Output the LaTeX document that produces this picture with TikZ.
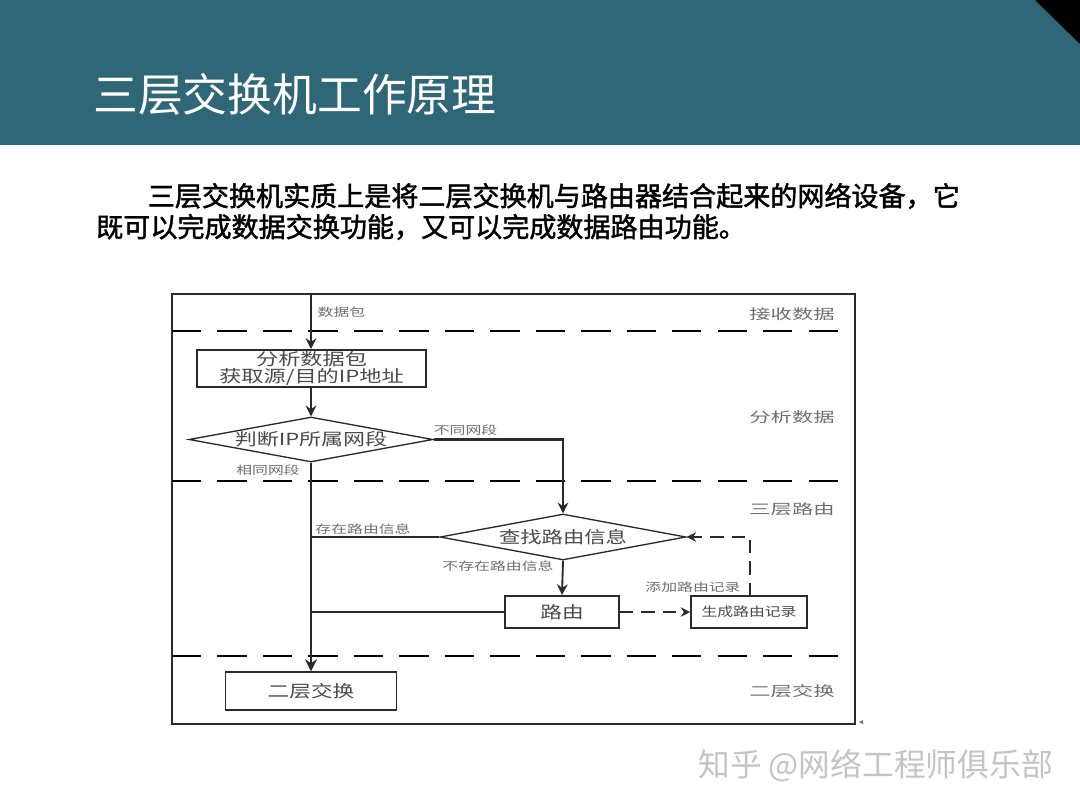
\documentclass[tikz,border=0pt]{standalone}
\usepackage{fontspec}
\usepackage{graphicx}
\setmainfont{Noto Sans CJK SC}
\newfontfamily\bodyfont[FakeBold=1.6]{Noto Sans CJK SC}
\usetikzlibrary{shapes.geometric,arrows.meta}
\definecolor{headerteal}{HTML}{2F6776}
\definecolor{inktext}{HTML}{4A4A4A}
\definecolor{softtext}{HTML}{6E6E6E}
\definecolor{linedark}{HTML}{2A2A2A}
\definecolor{markgray}{HTML}{C4C4C4}
\newcommand{\wide}[2][1.4]{\scalebox{#1}[1]{#2}}
\tikzset{
  x=0.75pt,y=-0.75pt,
  frameline/.style={draw=linedark,line width=1.5pt},
  laneline/.style={draw=black,line width=0.8pt,dash pattern=on 22pt off 12.1pt},
  flowbox/.style={draw=linedark,line width=1.5pt,rectangle,inner sep=0pt,fill=white,text=inktext,font=\fontsize{12.5pt}{14pt}\selectfont,align=center},
  flowdiamond/.style={draw=linedark,line width=1pt,diamond,aspect=5.4,inner sep=0pt,fill=white,text=inktext,font=\fontsize{12.5pt}{15pt}\selectfont},
  flowlabel/.style={text=softtext,inner sep=0pt,font=\fontsize{8.5pt}{10pt}\selectfont},
  lanelabel/.style={text=softtext,inner sep=0pt,font=\fontsize{10.5pt}{12pt}\selectfont},
  flowarrow/.style={draw=linedark,line width=1.4pt,-{Stealth[length=8pt,width=8pt]}},
  mainflow/.style={draw=linedark,line width=2pt,-{Stealth[length=9pt,width=9pt]}},
  thinflow/.style={draw=linedark,line width=1pt},
  heavyflow/.style={draw=linedark,line width=1.6pt},
  dashflow/.style={draw=linedark,line width=0.9pt,dash pattern=on 10pt off 6pt,-{Stealth[length=7pt,width=7pt]}},
  bodytext/.style={anchor=west,inner sep=0pt,text=black,font=\bodyfont\fontsize{20.3pt}{24pt}\selectfont},
}
\begin{document}
\begin{tikzpicture}
\useasboundingbox (0,0) rectangle (1080,810);
\fill[white] (0,0) rectangle (1080,810);
\fill[headerteal] (0,0) rectangle (1080,145);
\fill[black] (1035,0) -- (1080,0) -- (1080,44) -- cycle;
\node[anchor=west,inner sep=0pt,text=white,font=\fontsize{33.6pt}{40pt}\selectfont] (title) at (93,94) {三层交换机工作原理};
\node[bodytext] (body1) at (147.5,196) {三层交换机实质上是将二层交换机与路由器结合起来的网络设备，它};
\node[bodytext] (body2) at (96,227) {既可以完成数据交换功能，又可以完成数据路由功能。};

% frame and lanes
\draw[frameline] (172,294) rectangle (855,724);
\foreach \yy in {331,481,656} \draw[laneline] (172,\yy) -- (840,\yy);

% nodes
\coordinate (entry) at (311,294);
\node[flowbox,minimum width=171.75pt,minimum height=27.75pt] (analyse) at (311.5,368.5)
  {\wide[1.33]{分析数据包}\\[-1pt]\wide[1.33]{获取源/目的IP地址}};
\node[flowdiamond,minimum width=183pt,minimum height=33.75pt] (judge) at (311,439.5)
  {\makebox[0pt]{\wide[1.32]{判断IP所属网段}}};
\node[flowdiamond,minimum width=184.5pt,minimum height=34.5pt] (lookup) at (563,537)
  {\makebox[0pt]{\wide[1.28]{查找路由信息}}};
\node[flowbox,minimum width=85.5pt,minimum height=24pt] (route) at (562,612) {\wide[1.3]{路由}};
\node[flowbox,line width=1.2pt,minimum width=87pt,minimum height=24pt,font=\fontsize{9.5pt}{11pt}\selectfont] (gen) at (749,612) {\wide[1.25]{生成路由记录}};
\node[flowbox,line width=1.1pt,minimum width=128.25pt,minimum height=28.5pt] (ltwo) at (311,691) {\wide[1.3]{二层交换}};

\coordinate (genup) at (750,596);
\coordinate (genturn) at (750,537);
\coordinate (midjoin) at (311,612);
\coordinate (hitjoin) at (311,537);

% connectors
\draw[flowarrow] (entry) -- (analyse.north -| entry);
\draw[flowarrow] (judge.north |- analyse.south) -- (judge.north);
\draw[mainflow] (judge.south) -- (ltwo.north);
\draw[heavyflow,-{Stealth[length=8pt,width=8pt]}] (judge.east) -- (lookup.north |- judge.east) -- (lookup.north);
\draw[thinflow] (lookup.west) -- (hitjoin);
\draw[flowarrow] (lookup.south) -- (route.north);
\draw[heavyflow] (route.west) -- (midjoin);
\draw[dashflow,line width=1.4pt] (route.east) -- (gen.west);
\draw[dashflow] (genup) -- (genturn) -- (lookup.east);

% labels
\node[flowlabel] (lbpacket) at (341.5,312) {\wide{数据包}};
\node[flowlabel] (lbdiff) at (465.5,430) {\wide{不同网段}};
\node[flowlabel] (lbsame) at (268,470) {\wide{相同网段}};
\node[flowlabel] (lbhit) at (363,529) {\wide{存在路由信息}};
\node[flowlabel] (lbmiss) at (498,566) {\wide{不存在路由信息}};
\node[flowlabel] (lbadd) at (693,587) {\wide{添加路由记录}};
\node[lanelabel] (lanea) at (792,314) {\wide[1.52]{接收数据}};
\node[lanelabel] (laneb) at (792,417) {\wide[1.52]{分析数据}};
\node[lanelabel] (lanec) at (792,509) {\wide[1.52]{三层路由}};
\node[lanelabel] (laned) at (792,691) {\wide[1.52]{二层交换}};

% stray tick beside the frame
\fill[softtext] (859,722) -- (863,720) -- (863,724) -- cycle;

% watermark
\node[anchor=west,inner sep=0pt,text=markgray,font=\fontsize{23.8pt}{28pt}\selectfont] (mark) at (698,766) {知乎 @网络工程师俱乐部};
\end{tikzpicture}
\end{document}
